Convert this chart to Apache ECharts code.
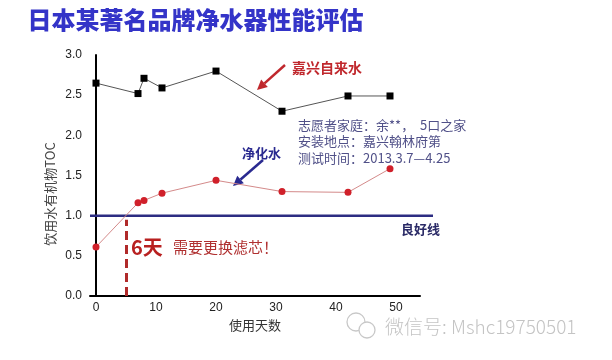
<!DOCTYPE html>
<html><head><meta charset="utf-8">
<script src="https://cdn.jsdelivr.net/npm/echarts@6/dist/echarts.min.js"></script>
<style>html,body{margin:0;padding:0;background:#fff}#c{width:612px;height:360px}</style>
</head><body><div id="c"></div>
<script>
// Data
const tapDays = [0, 7, 8, 11, 20, 31, 42, 49];
const tapTOC = [2.65, 2.52, 2.71, 2.59, 2.80, 2.30, 2.49, 2.49];
const purDays = [0, 7, 8, 11, 20, 31, 42, 49];
const purTOC = [0.61, 1.16, 1.19, 1.28, 1.44, 1.30, 1.29, 1.585];
const goodLine = 1.0;
const replaceDay = 5;
const xTicks = [0, 10, 20, 30, 40, 50];
const yTicks = [0, 0.5, 1, 1.5, 2, 2.5, 3];

const chart = echarts.init(document.getElementById('c'));
const font = 'Liberation Sans, Arial, sans-serif';
const cjk = '"Noto Sans CJK SC", sans-serif';

function arrow(x1, y1, x2, y2, color) {
  const a = Math.atan2(y2 - y1, x2 - x1), L = 10, W = 5;
  const bx = x2 - L * Math.cos(a), by = y2 - L * Math.sin(a);
  const px = -Math.sin(a) * W, py = Math.cos(a) * W;
  return [
    { type: 'line', shape: { x1: x1, y1: y1, x2: bx, y2: by }, style: { stroke: color, lineWidth: 2.5 } },
    { type: 'polygon', shape: { points: [[x2, y2], [bx + px, by + py], [bx - px, by - py]] }, style: { fill: color } }
  ];
}

chart.setOption({
  animation: false,
  backgroundColor: '#fff',
  grid: [
    { left: 90, right: 192, top: 55, bottom: 64 },
    { left: 90, right: 179, top: 55, bottom: 64 }
  ],
  xAxis: [{
    type: 'value', min: -1, max: 54, gridIndex: 0,
    name: '使用天数', nameLocation: 'middle', nameGap: 22,
    nameTextStyle: { fontFamily: cjk, fontSize: 13, color: '#333' },
    axisLine: { lineStyle: { color: '#000', width: 2 } },
    axisTick: { show: false },
    splitLine: { show: false },
    axisLabel: { customValues: xTicks, color: '#222', fontFamily: font, fontSize: 12, margin: 6 }
  }, {
    type: 'value', min: -1, max: 56.2, gridIndex: 1, show: false
  }],
  yAxis: [{
    type: 'value', min: 0, max: 3, interval: 0.5, gridIndex: 0,
    axisLine: { show: true, lineStyle: { color: '#000', width: 2 } },
    axisTick: { show: false },
    splitLine: { show: false },
    axisLabel: { color: '#222', fontFamily: font, fontSize: 12, margin: 8, formatter: v => v.toFixed(1) }
  }, {
    type: 'value', min: 0, max: 3, gridIndex: 1, show: false
  }],
  series: [
    {
      type: 'line', xAxisIndex: 1, yAxisIndex: 1, symbol: 'none', z: 1,
      data: [[-1, goodLine], [56.2, goodLine]],
      lineStyle: { color: '#2c2c82', width: 2.5 }
    },
    {
      type: 'line', symbol: 'rect', symbolSize: 7, z: 3,
      data: tapDays.map((d, i) => [d, tapTOC[i]]),
      lineStyle: { color: '#555', width: 1 },
      itemStyle: { color: '#000' }
    },
    {
      type: 'line', symbol: 'circle', symbolSize: 7, z: 3,
      data: purDays.map((d, i) => [d, purTOC[i]]),
      lineStyle: { color: '#d48a8a', width: 1 },
      itemStyle: { color: '#d0202a' },
      markLine: {
        silent: true, symbol: 'none', label: { show: false },
        lineStyle: { color: '#b02a2a', width: 3, type: [9, 5] },
        data: [[{ coord: [replaceDay, 0] }, { coord: [replaceDay, 0.95] }]]
      }
    }
  ],
  graphic: [
    { type: 'text', left: 27, top: 7, style: { text: '日本某著名品牌净水器性能评估', fontFamily: cjk, fontWeight: 900, fontSize: 24, fill: '#3434c8', stroke: '#fff', lineWidth: 1 } },
    { type: 'text', x: 50, y: 194, rotation: Math.PI / 2, style: { text: '饮用水有机物TOC', fontFamily: cjk, fontSize: 13, fill: '#444', align: 'center', verticalAlign: 'middle' } },
    { type: 'text', x: 292, y: 68, style: { text: '嘉兴自来水', fontFamily: cjk, fontWeight: 'bold', fontSize: 14, fill: '#c0282d', verticalAlign: 'middle' } },
    ...arrow(285, 65, 257, 90, '#c0282d'),
    { type: 'text', x: 242, y: 153, style: { text: '净化水', fontFamily: cjk, fontWeight: 'bold', fontSize: 13, fill: '#2a2a90', verticalAlign: 'middle' } },
    ...arrow(263, 160, 233, 186, '#2a2a90'),
    { type: 'text', x: 298, y: 125, style: { text: '志愿者家庭：余**，  5口之家', fontFamily: cjk, fontSize: 13, fill: '#505088', verticalAlign: 'middle' } },
    { type: 'text', x: 298, y: 141.5, style: { text: '安装地点：嘉兴翰林府第', fontFamily: cjk, fontSize: 13, fill: '#505088', verticalAlign: 'middle' } },
    { type: 'text', x: 298, y: 158, style: { text: '测试时间：2013.3.7—4.25', fontFamily: cjk, fontSize: 13, fill: '#505088', verticalAlign: 'middle' } },
    { type: 'text', x: 401, y: 229, style: { text: '良好线', fontFamily: cjk, fontWeight: 'bold', fontSize: 13, fill: '#2a2a66', verticalAlign: 'middle' } },
    { type: 'text', x: 131, y: 247, style: { text: '6天', fontFamily: cjk, fontWeight: 'bold', fontSize: 20, fill: '#b82020', verticalAlign: 'middle' } },
    { type: 'text', x: 173, y: 247, style: { text: '需要更换滤芯！', fontFamily: cjk, fontSize: 15, fill: '#b03030', verticalAlign: 'middle' } },
    { type: 'circle', shape: { cx: 356, cy: 322, r: 9 }, style: { fill: 'none', stroke: '#c8c8c8', lineWidth: 1.3 } },
    { type: 'circle', shape: { cx: 367, cy: 330, r: 8 }, style: { fill: '#fff', stroke: '#c8c8c8', lineWidth: 1.3 } },
    { type: 'text', x: 385, y: 327, style: { text: '微信号: Mshc19750501', fontFamily: cjk, fontSize: 19, fontWeight: 300, fill: '#c4c4c4', verticalAlign: 'middle' } }
  ]
});
</script></body></html>
